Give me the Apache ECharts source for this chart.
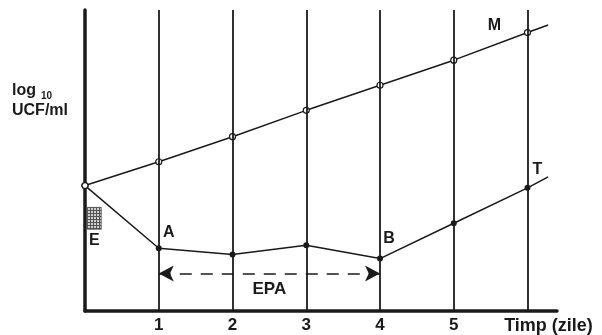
<!DOCTYPE html>
<html>
<head>
<meta charset="utf-8">
<script src="https://cdn.jsdelivr.net/npm/echarts@6/dist/echarts.min.js"></script>
<style>html,body{margin:0;padding:0;background:#fff}#c{width:602px;height:335px}</style>
</head>
<body>
<div id="c"></div>
<script>
// ---- data ----
const days = [0, 1, 2, 3, 4, 5, 6];
const mValues = [5, 5.95, 6.95, 8, 9, 10, 11.1];          // curve M (martor)
const tValues = [5, 2.5, 2.25, 2.62, 2.09, 3.5, 4.91];     // curve T (tratat)
const mTail = [6.28, 11.4];
const tTail = [6.28, 5.35];
const tickLabels = {1: '1', 2: '2', 3: '3', 4: '4', 5: '5', 6: 'Timp (zile)'};
const gridDays = [1, 2, 3, 4, 5, 6];
const epaRange = [1, 4];
const epaLevel = 1.5;
const eBoxX = [0.03, 0.22];
const eBoxY = [3.26, 4.13];
const pointLabels = {M: 6, T: 6, A: 1, B: 4};

const FONT = 'Liberation Sans, Arial, sans-serif';
const INK = '#1a1a1a';

// hatch pattern for E box
const pc = document.createElement('canvas');
pc.width = 3; pc.height = 3;
const g = pc.getContext('2d');
g.fillStyle = '#d0d0d0'; g.fillRect(0, 0, 3, 3);
g.fillStyle = '#555'; g.fillRect(0, 0, 3, 1); g.fillRect(0, 0, 1, 3);

const lblStyle = {fontFamily: FONT, fontWeight: 'bold', fontSize: 16, color: INK};

function mkData(vals, labelMap) {
  return days.map((d, i) => {
    const item = {value: [d, vals[i]]};
    if (i === 0) {
      item.symbol = 'circle';
      item.itemStyle = {color: '#fff', borderColor: INK, borderWidth: 1.2};
    }
    for (const k in labelMap) {
      if (labelMap[k].idx === i) {
        item.label = Object.assign({show: true, formatter: k, position: 'top', offset: labelMap[k].off}, lblStyle);
      }
    }
    return item;
  });
}

const chart = echarts.init(document.getElementById('c'), null, {renderer: 'canvas'});
chart.setOption({
  backgroundColor: '#fff',
  animation: false,
  title: {
    left: 12, top: 81, padding: 0,
    text: '{a|log} {b|10}\n{a|UCF/ml}',
    textStyle: {
      rich: {
        a: {fontFamily: FONT, fontWeight: 'bold', fontSize: 16, color: INK, lineHeight: 20},
        b: {fontFamily: FONT, fontWeight: 'bold', fontSize: 10, color: INK, verticalAlign: 'bottom', lineHeight: 20}
      }
    }
  },
  grid: {left: 85, right: 45, top: 10, bottom: 23},
  xAxis: {
    type: 'value', min: 0, max: 6.4, interval: 1,
    axisLine: {show: true, lineStyle: {color: INK, width: 3.5}},
    axisTick: {show: false},
    splitLine: {show: false},
    axisLabel: {
      margin: 6,
      showMaxLabel: false,
      formatter: v => {
        const t = tickLabels[v];
        if (!t) return '';
        return v === 6 ? '{t|' + t + '}' : '{d|' + t + '}';
      },
      rich: {
        d: {fontFamily: FONT, fontWeight: 'bold', fontSize: 17, color: INK},
        t: {fontFamily: FONT, fontWeight: 'bold', fontSize: 18, color: INK, padding: [0, 0, 0, 42]}
      }
    }
  },
  yAxis: {
    type: 'value', min: 0, max: 12,
    axisLine: {show: true, lineStyle: {color: INK, width: 3.5}},
    axisTick: {show: false},
    axisLabel: {show: false},
    splitLine: {show: false}
  },
  series: [
    {
      type: 'line', data: [], silent: true,
      markLine: {
        silent: true, symbol: 'none', label: {show: false},
        lineStyle: {color: INK, width: 1.8, type: 'solid'},
        data: gridDays.map(d => ({xAxis: d}))
      },
      markArea: {
        silent: true,
        itemStyle: {color: {image: pc, repeat: 'repeat'}, borderColor: '#444', borderWidth: 0.8},
        label: Object.assign({show: true, position: 'bottom', distance: 3}, lblStyle),
        data: [[{name: 'E', coord: [eBoxX[0], eBoxY[1]]}, {coord: [eBoxX[1], eBoxY[0]]}]]
      }
    },
    {
      type: 'line', data: [], silent: true,
      markLine: {
        silent: true, symbol: ['arrow', 'arrow'], symbolSize: [12, 15],
        lineStyle: {color: INK, width: 1.5, type: [12, 9]},
        label: Object.assign({show: true, formatter: 'EPA', position: 'insideMiddleBottom', distance: 7}, lblStyle, {fontSize: 17}),
        data: [[{coord: [epaRange[0], epaLevel]}, {coord: [epaRange[1], epaLevel]}]]
      }
    },
    {
      type: 'line', silent: true, symbol: 'none',
      lineStyle: {color: INK, width: 1.5},
      data: [[days[6], tValues[6]], tTail]
    },
    {
      type: 'line', silent: true, symbol: 'none',
      lineStyle: {color: INK, width: 1.5},
      data: [[days[6], mValues[6]], mTail]
    },
    {
      name: 'T', type: 'line', silent: true, symbol: 'circle', symbolSize: 6,
      itemStyle: {color: INK},
      lineStyle: {color: INK, width: 1.5},
      data: mkData(tValues, {A: {idx: pointLabels.A, off: [10, 0]}, B: {idx: pointLabels.B, off: [9, -4]}, T: {idx: pointLabels.T, off: [10, -2]}})
    },
    {
      name: 'M', type: 'line', silent: true, symbol: 'circle', symbolSize: 6,
      itemStyle: {color: '#fff', borderColor: INK, borderWidth: 1.2},
      lineStyle: {color: INK, width: 1.5},
      data: mkData(mValues, {M: {idx: pointLabels.M, off: [-33, 10]}})
    }
  ]
});
</script>
</body>
</html>
